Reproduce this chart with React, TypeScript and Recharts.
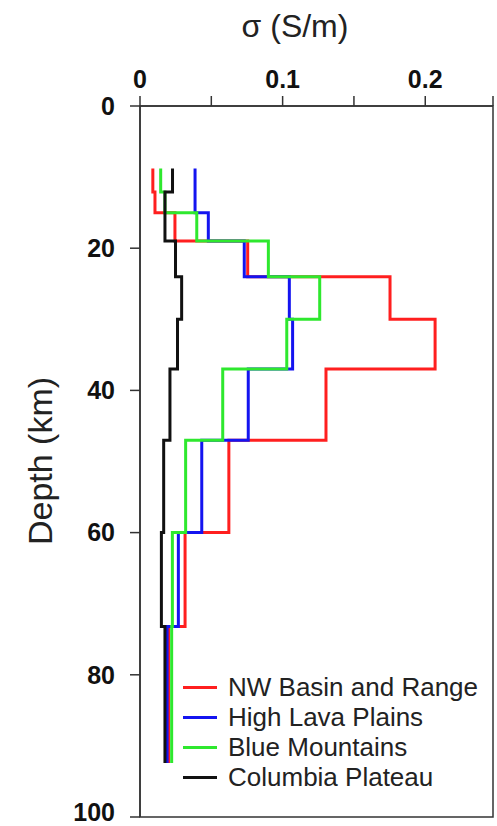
import { Legend, ReferenceArea, Scatter, ScatterChart, XAxis, YAxis } from "recharts";

// layer tops (km) shared by all four profiles; last layer ends at depthBottom
const depthTops = [8.8, 12.1, 15, 19, 24, 30, 37, 47, 60, 73.2];
const depthBottom = 92.4;

// conductivity per layer (S/m)
const nwBasin = [0.009, 0.0105, 0.0245, 0.0755, 0.1753, 0.2069, 0.1304, 0.0623, 0.0316, 0.02];
const highLava = [0.0386, 0.0386, 0.0479, 0.0731, 0.1047, 0.107, 0.0759, 0.0433, 0.0269, 0.019];
const blueMtns = [0.0145, 0.0175, 0.0398, 0.09, 0.126, 0.1029, 0.058, 0.032, 0.0227, 0.0222];
const columbia = [0.0228, 0.0175, 0.0175, 0.0249, 0.0292, 0.0263, 0.021, 0.0166, 0.015, 0.0175];

const sigmaTicks = [0, 0.05, 0.1, 0.15, 0.2, 0.2475];
const sigmaLabels = ["0", "", "0.1", "", "0.2", ""];
const depthTicks = [0, 20, 40, 60, 80, 100];

const FONT = "Arial, 'Liberation Sans', sans-serif";

// turn layered values into corner points of a step profile
function profile(values: number[]) {
  const pts: { s: number; d: number }[] = [];
  values.forEach((s, i) => {
    const bottom = i + 1 < depthTops.length ? depthTops[i + 1] : depthBottom;
    pts.push({ s, d: depthTops[i] }, { s, d: bottom });
  });
  return pts;
}

const series = [
  { name: "NW Basin and Range", color: "#ff1f1f", values: nwBasin },
  { name: "High Lava Plains", color: "#1414f0", values: highLava },
  { name: "Blue Mountains", color: "#2ee82e", values: blueMtns },
  { name: "Columbia Plateau", color: "#111111", values: columbia },
];
const order = series.map((s) => s.name);

// keep legend rows in series order (recharts sorts by name otherwise)
const renderLegend = (props: any) => {
  const items = [...(props.payload || [])].sort(
    (a: any, b: any) => order.indexOf(a.value) - order.indexOf(b.value)
  );
  return (
    <div style={{ fontFamily: FONT, fontSize: 26, lineHeight: "30px", color: "#222" }}>
      {items.map((p: any) => (
        <div key={p.value} style={{ display: "flex", alignItems: "center", whiteSpace: "nowrap" }}>
          <span
            style={{ display: "inline-block", width: 34, height: 3, background: p.color, marginRight: 11 }}
          />
          {p.value}
        </div>
      ))}
    </div>
  );
};

export default function App() {
  return (
    <div style={{ position: "relative", width: 497, height: 826, background: "#fff" }}>
      <style>{`body{margin:0}`}</style>
      <div
        style={{
          position: "absolute",
          left: 195,
          top: 8,
          width: 200,
          textAlign: "center",
          fontFamily: FONT,
          fontSize: 32,
          color: "#222",
        }}
      >
        σ (S/m)
      </div>
      <div
        style={{
          position: "absolute",
          left: 40,
          top: 461,
          transform: "translate(-50%, -50%) rotate(-90deg)",
          fontFamily: FONT,
          fontSize: 34,
          color: "#222",
          whiteSpace: "nowrap",
        }}
      >
        Depth (km)
      </div>
      <ScatterChart width={497} height={826} margin={{ top: 56, right: 4, bottom: 9, left: 0 }}>
        <XAxis
          type="number"
          dataKey="s"
          orientation="top"
          domain={[0, 0.2475]}
          ticks={sigmaTicks}
          tickFormatter={(v: number) => sigmaLabels[sigmaTicks.indexOf(v)] ?? ""}
          height={50}
          tickSize={10}
          tickMargin={8}
          stroke="#333"
          strokeWidth={1.5}
          tick={{ fill: "#111", fontSize: 25, fontWeight: "bold", fontFamily: FONT }}
          allowDataOverflow
        />
        <YAxis
          type="number"
          dataKey="d"
          reversed
          domain={[0, 100]}
          ticks={depthTicks}
          width={140}
          tickSize={10}
          tickMargin={15}
          stroke="#333"
          strokeWidth={1.5}
          tick={{ fill: "#111", fontSize: 25, fontWeight: "bold", fontFamily: FONT }}
          allowDataOverflow
        />
        <ReferenceArea x1={0} x2={0.2475} y1={0} y2={100} fill="none" stroke="#333" strokeWidth={1.5} />
        {series.map((s) => (
          <Scatter
            key={s.name}
            name={s.name}
            data={profile(s.values)}
            fill={s.color}
            line={{ stroke: s.color, strokeWidth: 3 }}
            shape={() => <g />}
            legendType="line"
            isAnimationActive={false}
          />
        ))}
        <Legend
          layout="vertical"
          align="center"
          verticalAlign="middle"
          content={renderLegend}
          wrapperStyle={{ left: 183, top: 672, width: 310 }}
        />
      </ScatterChart>
    </div>
  );
}
